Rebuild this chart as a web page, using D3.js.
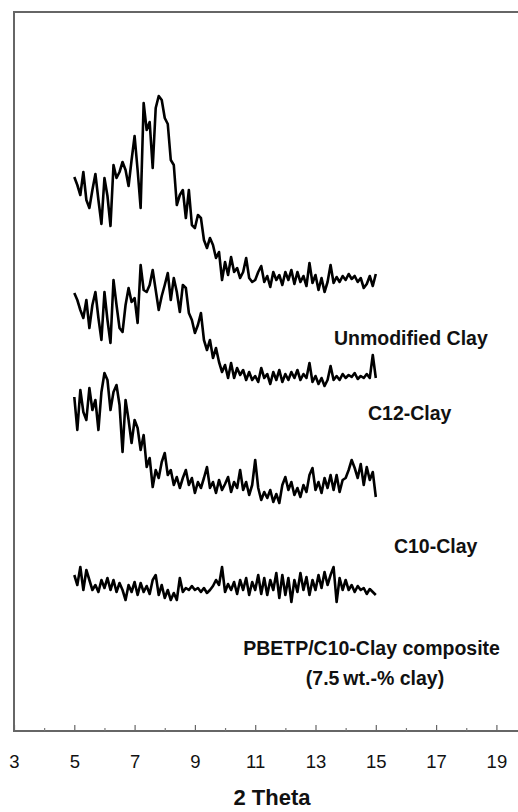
<!DOCTYPE html>
<html>
<head>
<meta charset="utf-8">
<script src="https://cdn.jsdelivr.net/npm/d3@7"></script>
<style>
  body { margin: 0; background: #fff; }
  svg { display: block; }
</style>
</head>
<body>
<script>
const width = 518;
const height = 812;
const margin = { top: 12, left: 14, bottom: 81 };

// scan grid (degrees 2 theta)
const scanStart = 5;
const scanStep = 0.1;

const xTicks = [3, 5, 7, 9, 11, 13, 15, 17, 19];
const xMinorTicks = [4, 6, 8, 10, 12, 14, 16, 18];

// stacked intensities (a.u.)
const unmodifiedClay = [
  554, 546, 536, 559, 531, 523, 541, 557, 531, 507,
  553, 535, 505, 566, 553, 559, 569, 561, 545, 571,
  595, 561, 523, 628, 601, 609, 563, 623, 635, 631,
  613, 607, 571, 566, 526, 536, 541, 513, 541, 506,
  503, 516, 513, 491, 483, 493, 486, 473, 479, 451,
  469, 456, 474, 459, 463, 453, 459, 473, 453, 449,
  451, 459, 465, 449, 455, 444, 459, 451, 456, 446,
  459, 451, 461, 447, 459, 449, 455, 445, 468, 448,
  456, 441, 453, 439, 449, 466, 448, 454, 449, 455,
  451, 457, 452, 455, 449, 453, 443, 447, 455, 445,
  457
];

const c12Clay = [
  438, 431, 421, 413, 431, 403, 426, 439, 413, 391,
  439, 411, 388, 451, 426, 403, 399, 426, 443, 429,
  433, 408, 466, 441, 439, 446, 461, 441, 421, 435,
  446, 458, 431, 453, 439, 419, 446, 443, 418, 411,
  398, 406, 418, 391, 381, 391, 373, 383, 369, 359,
  366, 353, 368, 353, 363, 356, 361, 351, 359, 351,
  355, 349, 363, 353, 357, 347, 359, 351, 361, 349,
  357, 351, 359, 353, 361, 351, 357, 353, 368, 349,
  355, 347, 353, 345, 351, 365, 351, 355, 351, 357,
  353, 356, 354, 358, 352, 355, 353, 357, 353, 376,
  353
];

const c10Clay = [
  334, 301, 341, 319, 311, 343, 321, 331, 301, 339,
  358, 351, 321, 339, 346, 326, 279, 331, 311, 288,
  311, 303, 281, 296, 264, 273, 244, 261, 253, 269,
  278, 256, 261, 246, 254, 243, 253, 261, 246, 253,
  238, 249, 243, 253, 264, 243, 249, 238, 251, 241,
  247, 254, 239, 249, 243, 261, 241, 249, 236, 246,
  271, 243, 231, 239, 233, 241, 229, 237, 228, 246,
  254, 241, 249, 236, 243, 234, 246, 239, 256, 263,
  241, 249, 238, 253, 243, 256, 241, 256, 239, 251,
  253, 261, 271, 263, 253, 267, 246, 264, 251, 259,
  234
];

const composite = [
  156, 146, 164, 141, 161, 151, 141, 146, 139, 151,
  143, 153, 141, 151, 139, 148, 141, 131, 146, 139,
  149, 136, 148, 139, 145, 137, 151, 156, 136, 146,
  133, 141, 131, 138, 131, 153, 139, 143, 141, 145,
  141, 143, 139, 143, 138, 141, 145, 151, 146, 164,
  139, 147, 141, 149, 137, 151, 141, 153, 136, 149,
  141, 156, 137, 153, 136, 151, 141, 158, 133, 156,
  136, 153, 129, 151, 139, 158, 141, 154, 136, 151,
  141, 156, 143, 159, 146, 156, 164, 129, 153, 141,
  151, 141, 146, 139, 145, 141, 143, 137, 142, 139,
  136
];

const series = [unmodifiedClay, c12Clay, c10Clay, composite];

// label text with anchor in data space [2theta, intensity]
const labels = [
  { text: "Unmodified Clay", at: [13.61, 386] },
  { text: "C12-Clay", at: [14.74, 311] },
  { text: "C10-Clay", at: [15.6, 178] },
  { text: "PBETP/C10-Clay composite", at: [10.6, 76] },
  { text: "(7.5\u2009wt.-% clay)", at: [12.68, 46] }
];

const x = d3.scaleLinear().domain([3, 20]).range([margin.left, margin.left + 17 * 30.15]);
const y = d3.scaleLinear().domain([0, 719]).range([height - margin.bottom, margin.top]);

const svg = d3.select("body").append("svg")
  .attr("width", width)
  .attr("height", height)
  .attr("viewBox", [0, 0, width, height]);

// frame
svg.append("rect")
  .attr("x", x(3))
  .attr("y", y(719))
  .attr("width", x(20) - x(3))
  .attr("height", y(0) - y(719))
  .attr("fill", "none")
  .attr("stroke", "#666")
  .attr("stroke-width", 2);

// bottom axis, ticks pointing inwards
const gx = svg.append("g")
  .attr("transform", `translate(0,${y(0)})`)
  .call(d3.axisBottom(x).tickValues(xMinorTicks).tickSize(-3).tickFormat(""))
  .call((g) => g.select(".domain").remove());
gx.selectAll("line").attr("stroke", "#777").attr("stroke-width", 1.2);

const gx2 = svg.append("g")
  .attr("transform", `translate(0,${y(0)})`)
  .call(d3.axisBottom(x).tickValues(xTicks).tickSize(-6).tickPadding(24).tickFormat(d3.format("d")))
  .call((g) => g.select(".domain").remove());
gx2.selectAll("line").attr("stroke", "#666").attr("stroke-width", 1.2);
gx2.selectAll("text")
  .attr("font-family", "Liberation Sans, Arial, sans-serif")
  .attr("font-size", "18.5px")
  .attr("fill", "#111")
  .attr("dy", "0.71em");

svg.append("text")
  .attr("x", 272)
  .attr("y", 805)
  .attr("text-anchor", "middle")
  .attr("font-family", "Liberation Sans, Arial, sans-serif")
  .attr("font-weight", "bold")
  .attr("font-size", "22px")
  .attr("fill", "#111")
  .text("2 Theta");

const line = d3.line()
  .x((d, i) => x(scanStart + i * scanStep))
  .y((d) => y(d));

svg.append("g")
  .selectAll("path")
  .data(series)
  .join("path")
  .attr("d", line)
  .attr("fill", "none")
  .attr("stroke", "#000")
  .attr("stroke-width", 2.6)
  .attr("stroke-linejoin", "round");

svg.append("g")
  .selectAll("text")
  .data(labels)
  .join("text")
  .attr("x", (d) => x(d.at[0]))
  .attr("y", (d) => y(d.at[1]))
  .attr("font-family", "Liberation Sans, Arial, sans-serif")
  .attr("font-weight", "bold")
  .attr("font-size", "19.5px")
  .attr("fill", "#111")
  .text((d) => d.text);
</script>
</body>
</html>
